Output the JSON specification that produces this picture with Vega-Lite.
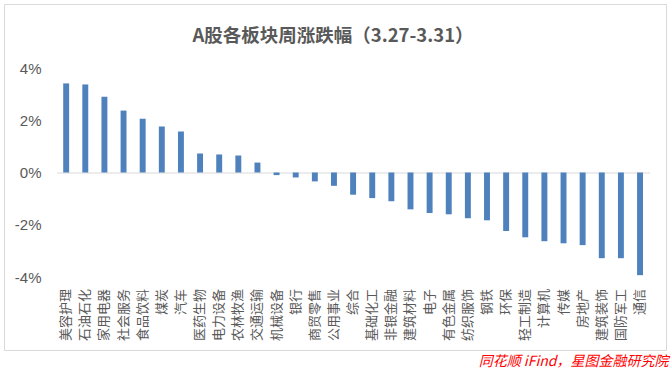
{
  "$schema": "https://vega.github.io/schema/vega-lite/v6.json",
  "width": 662,
  "height": 346,
  "autosize": {"type": "none"},
  "padding": {"left": 4, "top": 4, "right": 6, "bottom": 22},
  "background": "white",
  "config": {
    "view": {"stroke": "#d9d9d9", "strokeWidth": 1},
    "font": "Noto Sans CJK SC"
  },
  "title": {
    "text": "A股各板块周涨跌幅（3.27-3.31）",
    "anchor": "middle",
    "frame": "group",
    "offset": -41,
    "dx": -2,
    "fontSize": 18.5,
    "fontWeight": "bold",
    "color": "#595959",
    "font": "Noto Sans CJK SC"
  },
  "data": {
    "values": [
      {"sector": "美容护理", "chg": 3.41},
      {"sector": "石油石化", "chg": 3.37},
      {"sector": "家用电器", "chg": 2.90},
      {"sector": "社会服务", "chg": 2.37},
      {"sector": "食品饮料", "chg": 2.06},
      {"sector": "煤炭", "chg": 1.76},
      {"sector": "汽车", "chg": 1.57},
      {"sector": "医药生物", "chg": 0.73},
      {"sector": "电力设备", "chg": 0.69},
      {"sector": "农林牧渔", "chg": 0.65},
      {"sector": "交通运输", "chg": 0.38},
      {"sector": "机械设备", "chg": -0.10},
      {"sector": "银行", "chg": -0.19},
      {"sector": "商贸零售", "chg": -0.34},
      {"sector": "公用事业", "chg": -0.51},
      {"sector": "综合", "chg": -0.85},
      {"sector": "基础化工", "chg": -0.98},
      {"sector": "非银金融", "chg": -1.10},
      {"sector": "建筑材料", "chg": -1.41},
      {"sector": "电子", "chg": -1.55},
      {"sector": "有色金属", "chg": -1.60},
      {"sector": "纺织服饰", "chg": -1.75},
      {"sector": "钢铁", "chg": -1.83},
      {"sector": "环保", "chg": -2.24},
      {"sector": "轻工制造", "chg": -2.48},
      {"sector": "计算机", "chg": -2.63},
      {"sector": "传媒", "chg": -2.71},
      {"sector": "房地产", "chg": -2.78},
      {"sector": "建筑装饰", "chg": -3.28},
      {"sector": "国防军工", "chg": -3.28},
      {"sector": "通信", "chg": -3.93}
    ]
  },
  "mark": {"type": "bar", "color": "#4F81BD"},
  "encoding": {
    "x": {
      "field": "sector",
      "type": "nominal",
      "sort": null,
      "scale": {"range": [52.6, 645.6], "paddingInner": 0.69, "paddingOuter": 0.345},
      "axis": {
        "title": "同花顺 iFind，星图金融研究院",
        "titleX": 664,
        "titleY": 193,
        "titleAlign": "right",
        "titleBaseline": "alphabetic",
        "titleAnchor": null,
        "titleColor": "#FF0000",
        "titleFontStyle": "italic",
        "titleFontWeight": "normal",
        "titleFontSize": 14,
        "titleFont": "Noto Sans CJK SC",
        "offset": -177.5,
        "domainColor": "#d9d9d9",
        "domainWidth": 1,
        "ticks": false,
        "labelAngle": -90,
        "labelPadding": 116,
        "labelFontSize": 13,
        "labelColor": "#595959",
        "labelFont": "Noto Sans CJK SC",
        "grid": false
      }
    },
    "y": {
      "field": "chg",
      "type": "quantitative",
      "scale": {"domain": [-4, 4], "range": [273, 64], "nice": false, "zero": false},
      "axis": {
        "title": null,
        "values": [-4, -2, 0, 2, 4],
        "labelExpr": "datum.value + '%'",
        "domain": false,
        "ticks": false,
        "grid": false,
        "labelPadding": -37,
        "labelAlign": "right",
        "labelFontSize": 15,
        "labelColor": "#595959",
        "labelFont": "Liberation Sans"
      }
    }
  }
}
